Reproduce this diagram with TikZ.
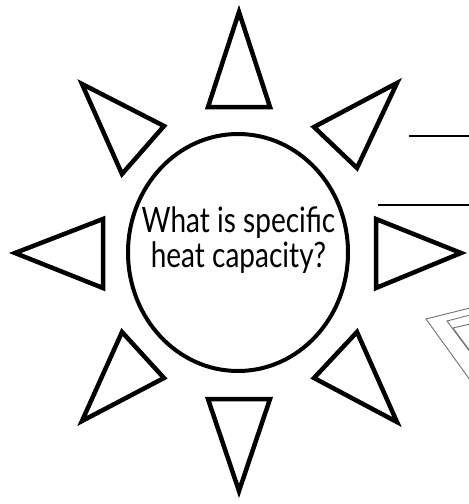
\documentclass[tikz,border=0pt]{standalone}
\usepackage{fontspec}
\newfontfamily\handfont[FakeStretch=0.8]{Lato}
\usetikzlibrary{shapes.geometric}

\begin{document}
\begin{tikzpicture}[
    x=1pt, y=-1pt,
    ray/.style={draw, line width=4.5pt, line join=miter},
    hub/.style={ellipse, draw, line width=4pt, inner sep=0pt,
                minimum width=220pt, minimum height=237pt},
    blank/.style={draw, line width=2.5pt},
    sketch/.style={draw, black!55, line width=0.9pt},
    words/.style={font=\handfont\fontsize{35}{35}\selectfont,
                  align=center, inner sep=0pt}
  ]
  \useasboundingbox (0,0) rectangle (469,504);

  % Centre disc and the question.
  \node[hub] (core) at (238,252.5) {};
  \node[words] (question) at (238.5,240) {What is specific\\heat capacity?};

  % Rays: top, bottom, left, right.
  \draw[ray] (239,12) -- (270,107) -- (208,107) -- cycle;
  \draw[ray] (208,399) -- (270,399) -- (239,491) -- cycle;
  \draw[ray] (15,253) -- (103,219) -- (103,288) -- cycle;
  \draw[ray] (461,253) -- (376,219) -- (376,288) -- cycle;

  % Rays: the four diagonals.
  \draw[ray] (82,84) -- (164,126) -- (122,174) -- cycle;
  \draw[ray] (397,83) -- (314,127) -- (357,168) -- cycle;
  \draw[ray] (397,422) -- (357,332) -- (314,378) -- cycle;
  \draw[ray] (82,421) -- (122,332) -- (164,378) -- cycle;

  % Answer lines on the right.
  \draw[blank] (409,136) -- (469,136);
  \draw[blank] (378,205) -- (469,205);

  % Faint cut-off sketch at the lower right.
  \draw[sketch] (470,308) -- (426,319) -- (470,380);
  \draw[sketch] (470,315) -- (447,321) -- (470,352);
  \draw[sketch] (470,324) -- (453,328) -- (470,351);

\end{tikzpicture}
\end{document}
